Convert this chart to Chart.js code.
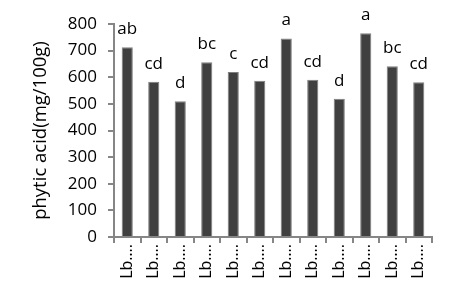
<!DOCTYPE html>
<html>
<head>
<meta charset="utf-8">
<script src="https://cdn.jsdelivr.net/npm/chart.js@4/dist/chart.umd.min.js"></script>
<style>
  html, body { margin: 0; padding: 0; background: #fff; }
  #wrap { width: 460px; height: 308px; }
</style>
</head>
<body>
<div id="wrap"><canvas id="myChart" width="460" height="308"></canvas></div>
<script>
// values
const categories = ["Lb….", "Lb….", "Lb….", "Lb….", "Lb….", "Lb….", "Lb….", "Lb….", "Lb….", "Lb….", "Lb….", "Lb…."];
const phyticAcid = [713, 583, 510, 656, 620, 587, 746, 591, 519, 765, 641, 581];
const letters = ["ab", "cd", "d", "bc", "c", "cd", "a", "cd", "d", "a", "bc", "cd"];
const yTicks = [0, 100, 200, 300, 400, 500, 600, 700, 800];

const FONT = "'Open Sans', sans-serif";
const AXIS_GREY = "#868686";

// draws the significance letters above each bar
const letterPlugin = {
  id: "letters",
  afterDatasetsDraw(chart) {
    const ctx = chart.ctx;
    const meta = chart.getDatasetMeta(0);
    ctx.save();
    ctx.font = "17px " + FONT;
    ctx.fillStyle = "#000";
    ctx.textAlign = "center";
    ctx.textBaseline = "alphabetic";
    meta.data.forEach((bar, i) => {
      ctx.fillText(letters[i], bar.x, bar.y - 13);
    });
    ctx.restore();
  },
};

const ctx = document.getElementById("myChart").getContext("2d");
new Chart(ctx, {
  type: "bar",
  data: {
    labels: categories,
    datasets: [
      {
        data: phyticAcid,
        backgroundColor: "#404040",
        borderColor: "#7f7f7f",
        borderWidth: 1,
        barPercentage: 0.42,
        categoryPercentage: 1,
      },
    ],
  },
  options: {
    responsive: false,
    animation: false,
    layout: { padding: { top: 24, right: 28, left: 0, bottom: 0 } },
    plugins: { legend: { display: false }, tooltip: { enabled: false } },
    scales: {
      x: {
        afterFit: (scale) => {
          scale.height = 71;
        },
        grid: { drawOnChartArea: false, color: AXIS_GREY, tickLength: 6, lineWidth: 2 },
        border: { color: AXIS_GREY, width: 2 },
        ticks: {
          color: "#000",
          font: { family: FONT, size: 16 },
          minRotation: 90,
          maxRotation: 90,
          padding: 1,
          autoSkip: false,
        },
      },
      y: {
        min: 0,
        max: 800,
        afterBuildTicks: (scale) => {
          scale.ticks = yTicks.map((v) => ({ value: v }));
        },
        afterFit: (scale) => {
          scale.width = 114;
        },
        grid: { drawOnChartArea: false, color: AXIS_GREY, tickLength: 6, lineWidth: 2 },
        border: { color: AXIS_GREY, width: 2 },
        ticks: { color: "#000", font: { family: FONT, size: 17 }, padding: 11 },
        title: {
          display: true,
          text: "phytic acid(mg/100g)",
          color: "#000",
          font: { family: FONT, size: 18.5 },
          padding: { top: 30, bottom: 0 },
        },
      },
    },
  },
  plugins: [letterPlugin],
});
</script>
</body>
</html>
